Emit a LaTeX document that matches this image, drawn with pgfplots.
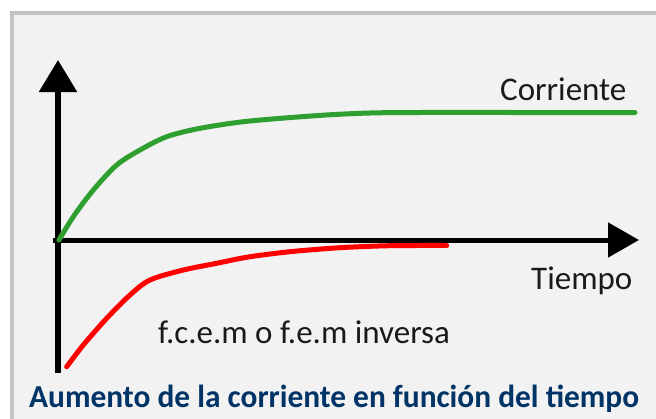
\documentclass[border=0pt]{standalone}
\usepackage{pgfplots}
\pgfplotsset{compat=1.18}
\usetikzlibrary{arrows.meta}
\usepackage{fontspec}
\setmainfont{Carlito}

\definecolor{bgc}{HTML}{F2F2F2}
\definecolor{framec}{HTML}{C3C3C3}
\definecolor{curgreen}{HTML}{2FA02F}
\definecolor{titleblue}{HTML}{003366}
\definecolor{txt}{HTML}{1A1A1A}

\begin{document}
\begin{tikzpicture}
% panel behind the chart (1 unit = 1pt, origin = where the axes cross)
\fill[bgc] (-46pt,-200pt) rectangle (620pt,227pt);
\draw[framec, line width=4pt] (-46pt,-200pt) -- (-46pt,227pt) -- (620pt,227pt);

\begin{axis}[
    at={(0pt,0pt)}, anchor=origin,
    scale only axis,
    width=586pt, height=313pt,
    xmin=-5, xmax=581, ymin=-133, ymax=180,
    enlargelimits=false,
    axis lines=middle,
    ticks=none,
    clip=false,
    x axis line style={-{Triangle[width=34pt,length=31pt]}, line width=5pt},
    y axis line style={-{Triangle[width=37pt,length=32pt]}, line width=5.5pt},
    every axis plot/.append style={line width=5pt, line cap=round, line join=round},
]
% current
\addplot[curgreen, smooth, tension=0.5] coordinates {
    (1,0) (15.3,23.3) (35.3,50) (58.7,75) (82,90) (108.7,103.3)
    (142,111.7) (190,118.8) (262,124.6) (312,127) (362,127.5)
    (460,127.5) (577,127.5)
};
% back emf
\addplot[red, smooth, tension=0.5] coordinates {
    (8.7,-126.7) (25.3,-105) (48.7,-78.3) (72,-55) (92,-40) (125.3,-30)
    (158.7,-23.3) (190.3,-17) (232,-11.7) (282,-7.7) (332,-5.7) (388.7,-5.5)
};

\node[anchor=base west, text=txt, font=\fontsize{33}{38}\selectfont, inner sep=0pt]
    at (axis cs:442,140) {Corriente};
\node[anchor=base west, text=txt, font=\fontsize{33}{38}\selectfont, inner sep=0pt]
    at (axis cs:473,-49) {Tiempo};
\node[anchor=base west, text=txt, font=\fontsize{33}{38}\selectfont, inner sep=0pt]
    at (axis cs:100,-103) {f.c.e.m o f.e.m inversa};
\node[anchor=base west, text=titleblue, inner sep=0pt,
      font=\fontsize{32}{36}\selectfont\bfseries]
    at (axis cs:-29,-167) {\resizebox{610pt}{\height}{Aumento de la corriente en función del tiempo}};
\end{axis}

\pgfresetboundingbox
\useasboundingbox (-58pt,-178pt) rectangle (598pt,240pt);
\end{tikzpicture}
\end{document}
